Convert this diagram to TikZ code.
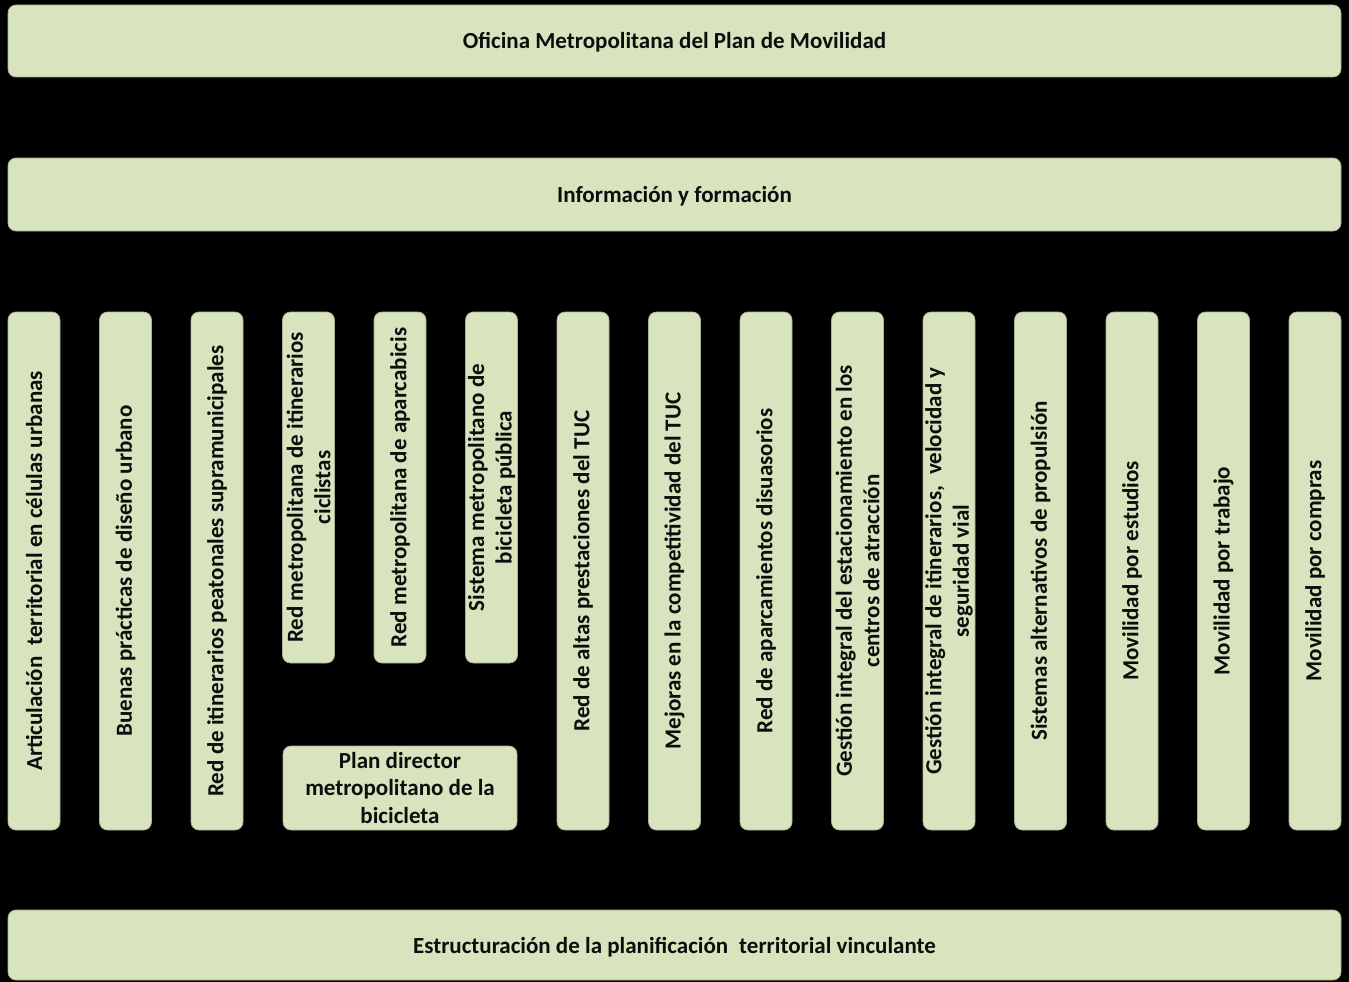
\documentclass[tikz,border=0pt]{standalone}
\usepackage{fontspec}
\setmainfont{Carlito}
\definecolor{boxfill}{HTML}{D7E4BD}
\definecolor{boxedge}{HTML}{A9B296}
\definecolor{txt}{HTML}{0D0D0D}
\begin{document}
\begin{tikzpicture}[x=1pt,y=-1pt,
  every node/.style={font=\fontsize{23}{27.5}\selectfont\bfseries, text=txt},
  bar/.style={draw=boxedge, line width=0.7pt, fill=boxfill, rounded corners=8pt,
    minimum width=1333pt, inner sep=0pt, align=center, text height=16pt, text depth=1.2pt},
  col/.style={draw=boxedge, line width=0.7pt, fill=boxfill, rounded corners=8pt,
    rotate=90, minimum height=52pt, inner sep=0pt, align=center},
  longcol/.style={col, minimum width=518pt},
  shortcol/.style={col, minimum width=351pt}]
\fill[black] (0,0) rectangle (1349,982);
\useasboundingbox (0,0) rectangle (1349,982);

\node[bar, minimum height=72pt] (ofi) at (674.5,41) {Oficina Metropolitana del Plan de Movilidad};
\node[bar, minimum height=73pt, text height=17pt, text depth=1.4pt] (inf) at (674.5,194.5) {Información y formación};
\node[bar, minimum height=70pt, text height=18pt, text depth=2pt] (est) at (674.5,945) {Estructuración de la planificación\hspace{0.25em} territorial vinculante};

\node[longcol] (c1) at (34,571) {Articulación\hspace{0.25em} territorial en células urbanas};
\node[longcol] (c2) at (125.5,571) {Buenas prácticas de diseño urbano};
\node[longcol] (c3) at (217,571) {Red de itinerarios peatonales supramunicipales};
\node[shortcol] (c4) at (308.5,487.5) {Red metropolitana de itinerarios\\ciclistas};
\node[shortcol] (c5) at (400,487.5) {Red metropolitana de aparcabicis};
\node[shortcol] (c6) at (491.5,487.5) {Sistema metropolitano de\\bicicleta pública};
\node[longcol] (c7) at (583,571) {Red de altas prestaciones del TUC};
\node[longcol] (c8) at (674.5,571) {Mejoras en la competitividad del TUC};
\node[longcol] (c9) at (766,571) {Red de aparcamientos disuasorios};
\node[longcol] (c10) at (857.5,571) {Gestión integral del estacionamiento en los\\centros de atracción};
\node[longcol] (c11) at (949,571) {Gestión integral de itinerarios,\hspace{0.25em} velocidad y\\seguridad vial};
\node[longcol] (c12) at (1040.5,571) {Sistemas alternativos de propulsión};
\node[longcol] (c13) at (1132,571) {Movilidad por estudios};
\node[longcol] (c14) at (1223.5,571) {Movilidad por trabajo};
\node[longcol] (c15) at (1315,571) {Movilidad por compras};

\node[draw=boxedge, line width=0.7pt, fill=boxfill, rounded corners=8pt,
  minimum width=234pt, minimum height=84pt, inner sep=0pt, align=center] (plan) at (400,788)
  {Plan director\\metropolitano de la\\bicicleta};
\end{tikzpicture}
\end{document}
